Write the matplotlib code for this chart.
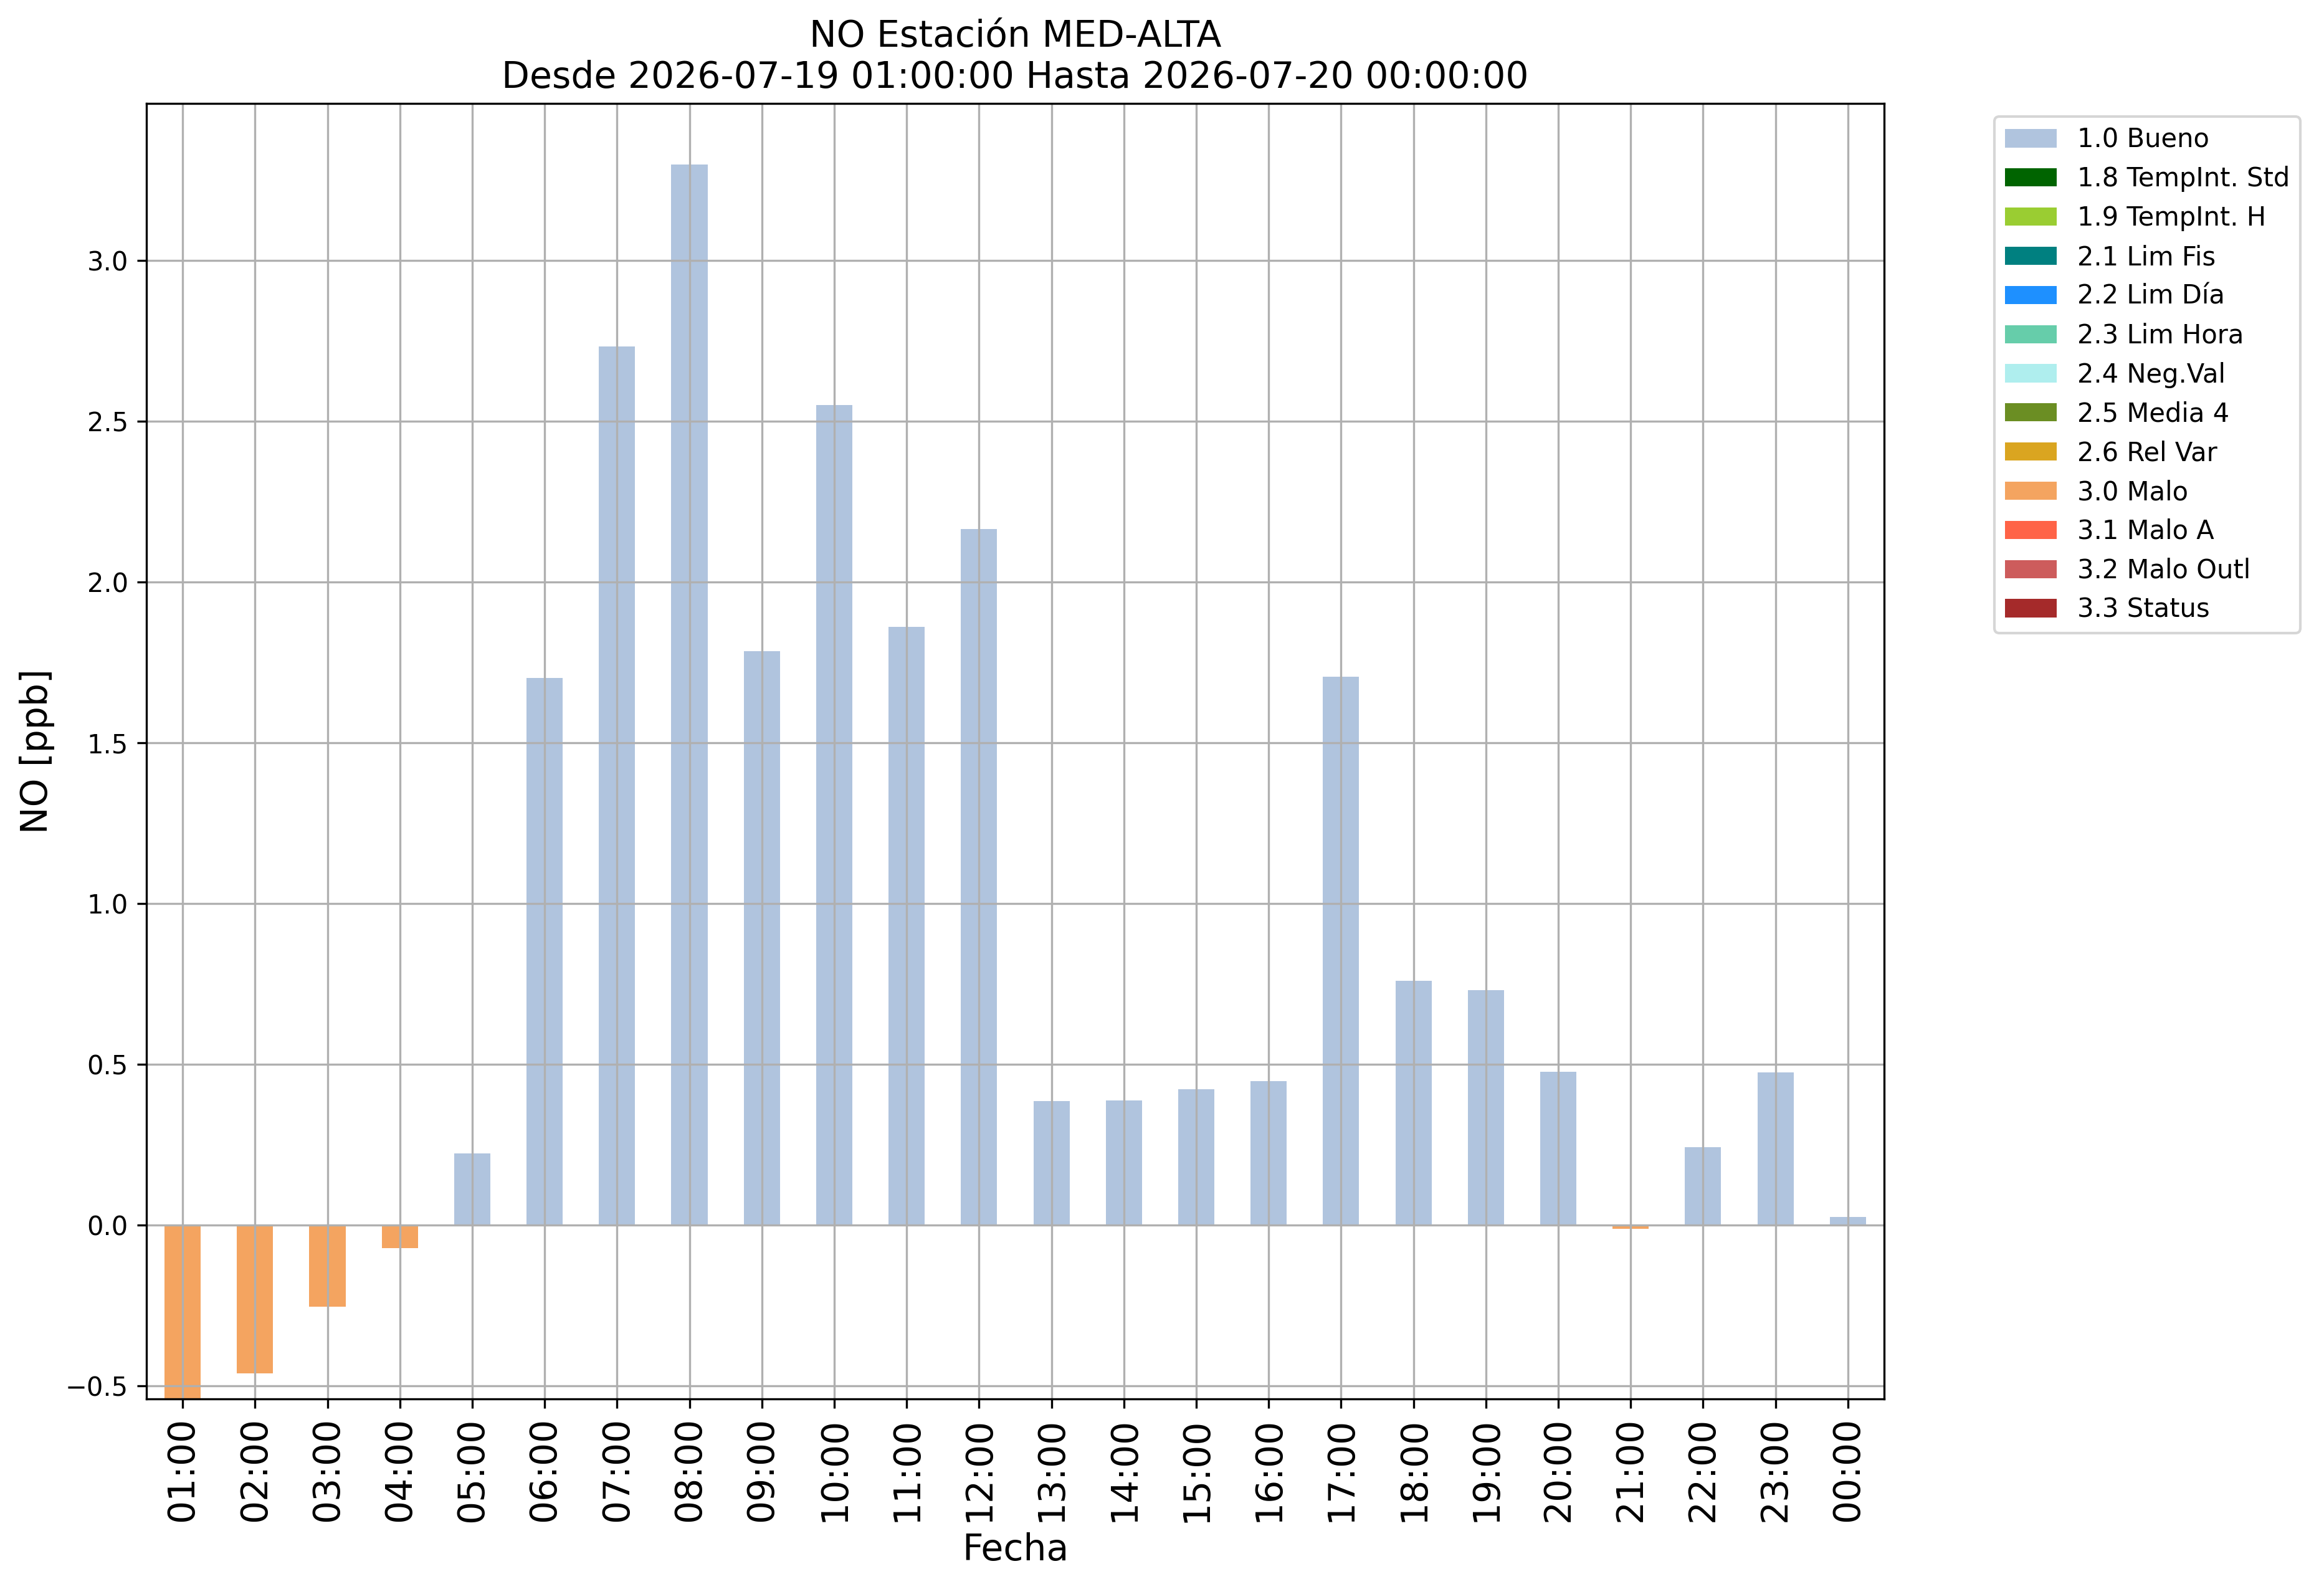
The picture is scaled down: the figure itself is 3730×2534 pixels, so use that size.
import numpy as np
import matplotlib
matplotlib.use("Agg")
import matplotlib.pyplot as plt

# Horas del periodo
horas = ["01:00", "02:00", "03:00", "04:00", "05:00", "06:00", "07:00", "08:00",
         "09:00", "10:00", "11:00", "12:00", "13:00", "14:00", "15:00", "16:00",
         "17:00", "18:00", "19:00", "20:00", "21:00", "22:00", "23:00", "00:00"]

# Valores de NO [ppb] por hora
valores = [-0.545, -0.462, -0.255, -0.072, 0.222, 1.702, 2.732, 3.299,
           1.784, 2.550, 1.861, 2.165, 0.385, 0.388, 0.422, 0.447,
           1.706, 0.760, 0.730, 0.477, -0.011, 0.242, 0.475, 0.025]

# Bandera de calidad de cada hora
banderas = ["3.0", "3.0", "3.0", "3.0", "1.0", "1.0", "1.0", "1.0",
            "1.0", "1.0", "1.0", "1.0", "1.0", "1.0", "1.0", "1.0",
            "1.0", "1.0", "1.0", "1.0", "3.0", "1.0", "1.0", "1.0"]

# Categorias de la leyenda y sus colores
codigos = ["1.0", "1.8", "1.9", "2.1", "2.2", "2.3", "2.4", "2.5", "2.6",
           "3.0", "3.1", "3.2", "3.3"]
nombres = ["1.0 Bueno", "1.8 TempInt. Std", "1.9 TempInt. H", "2.1 Lim Fis",
           "2.2 Lim Día", "2.3 Lim Hora", "2.4 Neg.Val", "2.5 Media 4",
           "2.6 Rel Var", "3.0 Malo", "3.1 Malo A", "3.2 Malo Outl", "3.3 Status"]
colores = ["lightsteelblue", "darkgreen", "yellowgreen", "teal", "dodgerblue",
           "mediumaquamarine", "paleturquoise", "olivedrab", "goldenrod",
           "sandybrown", "tomato", "indianred", "brown"]

fig = plt.figure(figsize=(3730 / 300, 2534 / 300), dpi=300)
ax = fig.add_axes([0.0630, 0.11405, 0.8107 - 0.0630, 0.93449 - 0.11405])

x = np.arange(len(horas))
for cod, nom, col in zip(codigos, nombres, colores):
    y = [v if b == cod else 0.0 for v, b in zip(valores, banderas)]
    ax.bar(x, y, width=0.5, color=col, label=nom)

ax.set_xlim(-0.5, len(horas) - 0.5)
ax.set_ylim(-0.541, 3.488)
ax.set_xticks(x)
ax.set_xticklabels(horas, rotation=90, fontsize=14)
ax.tick_params(axis="y", labelsize=10)
ax.grid(True, color="#b0b0b0", linewidth=0.8)

ax.set_title("NO Estación MED-ALTA\nDesde 2026-07-19 01:00:00 Hasta 2026-07-20 00:00:00",
             fontsize=14)
ax.set_xlabel("Fecha", fontsize=14)
ax.set_ylabel("NO [ppb]", fontsize=14)
ax.legend(bbox_to_anchor=(1.056, 1), loc="upper left", fontsize=10)

fig.savefig("out.png", dpi=300)
